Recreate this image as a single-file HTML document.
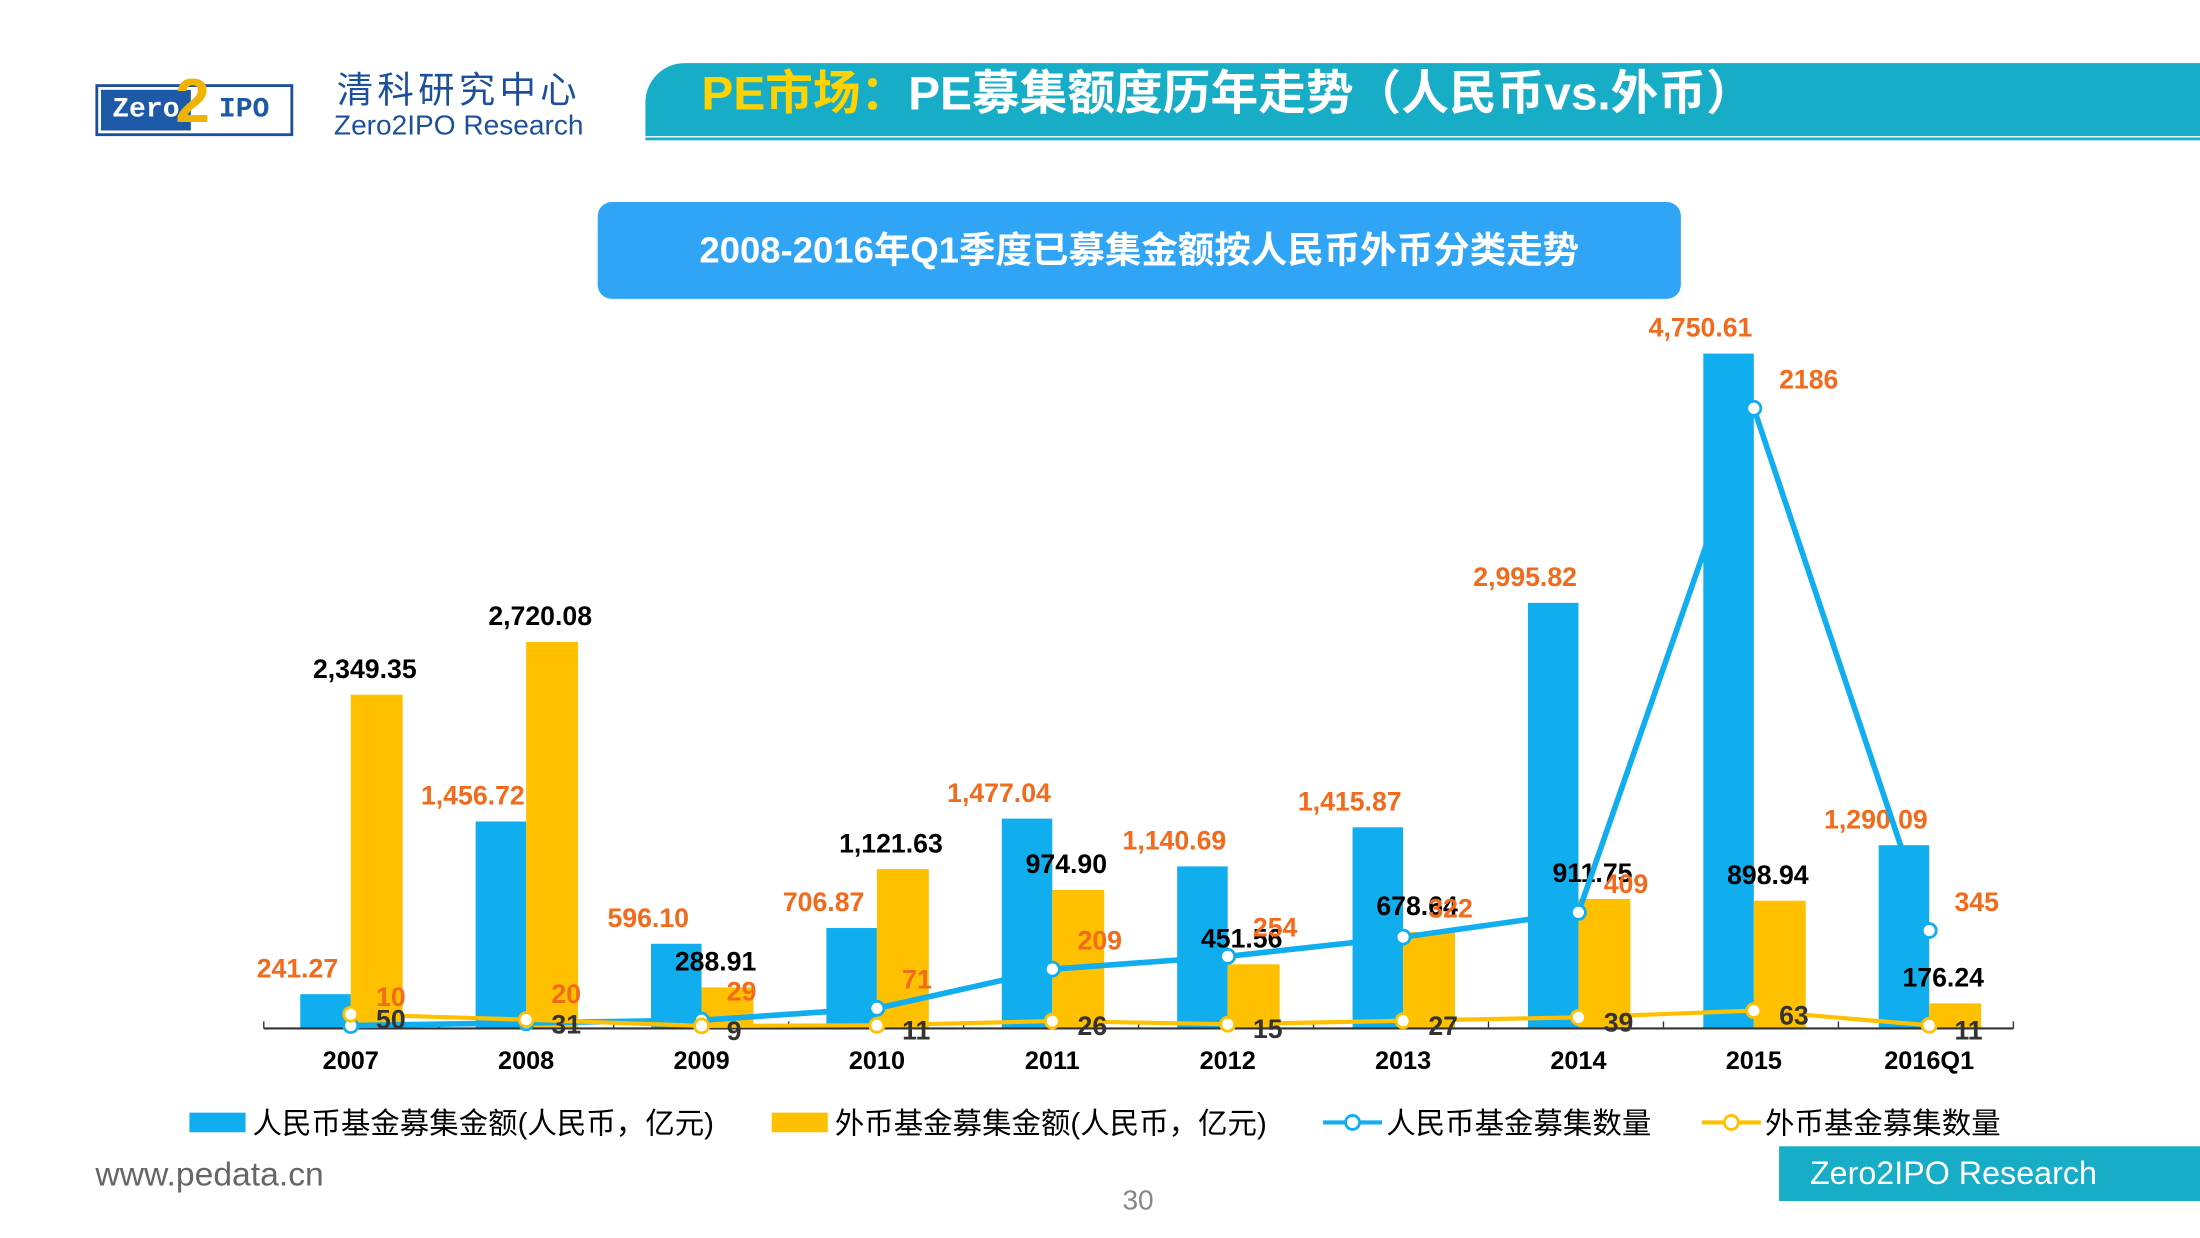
<!DOCTYPE html>
<html><head><meta charset="utf-8"><style>
body{margin:0;width:2200px;height:1238px;overflow:hidden;background:#fff}
#s{position:absolute;left:0;top:0;width:1568px;height:882px;transform:scale(1.40306);transform-origin:0 0;font-family:"Liberation Sans","Noto Sans CJK SC",sans-serif}
.a{position:absolute}
</style></head><body><div id="s">
<div class="a" style="left:68px;top:60px;width:137px;height:33px;border:2px solid #1c4f9c;background:#fff">
 <div class="a" style="left:2px;top:2px;width:64px;height:29px;background:#1c5aa8;color:#fff;font:bold 20px 'Liberation Mono',monospace;line-height:29px;text-align:center">Zero</div>
 <div class="a" style="left:55px;top:-14px;color:#f0b400;font:bold 44px 'Liberation Sans',sans-serif">2</div>
 <div class="a" style="left:86px;top:2px;color:#1c5aa8;font:bold 20px 'Liberation Mono',monospace;line-height:29px">IPO</div>
</div>
<div class="a" style="left:240px;top:44px;font-size:26px;color:#1c4f9c;letter-spacing:3px">清科研究中心</div>
<div class="a" style="left:238px;top:79px;font-size:20px;color:#1c4f9c">Zero2IPO Research</div>
<div class="a" style="left:460px;top:45px;width:1108px;height:52px;background:#17adc6;border-radius:28px 0 0 0"></div>
<div class="a" style="left:460px;top:98px;width:1108px;height:2px;background:#17adc6"></div>
<div class="a" style="left:500px;top:47px;font-size:34px;font-weight:bold;color:#fff;line-height:40px"><span style="color:#ffd200">PE市场：</span>PE募集额度历年走势（人民币vs.外币）</div>
<div class="a" style="left:426px;top:144px;width:772px;height:69px;background:#31a5f5;border-radius:10px;color:#fff;font-size:26px;font-weight:bold;text-align:center;line-height:69px">2008-2016年Q1季度已募集金额按人民币外币分类走势</div>
<svg class="a" style="left:0;top:0" width="1568" height="882" id="ch"></svg>
<div class="a" style="left:68px;top:824px;font-size:24px;color:#666">www.pedata.cn</div>
<div class="a" style="left:800px;top:845px;font-size:20px;color:#888">30</div>
<div class="a" style="left:1268px;top:817px;width:300px;height:39px;background:#17adc6;color:#fff;font-size:23px;line-height:39px;padding-left:22px;box-sizing:border-box">Zero2IPO Research</div>
</div>
<script>
const categories=["2007","2008","2009","2010","2011","2012","2013","2014","2015","2016Q1"];
const rmbAmount=[241.27,1456.72,596.10,706.87,1477.04,1140.69,1415.87,2995.82,4750.61,1290.09];
const fxAmount=[2349.35,2720.08,288.91,1121.63,974.90,451.56,678.64,911.75,898.94,176.24];
const rmbCount=[10,20,29,71,209,254,322,409,2186,345];
const fxCount=[50,31,9,11,26,15,27,39,63,11];
const NS="http://www.w3.org/2000/svg",svg=document.getElementById('ch');
const base=733,x=i=>250+125*i,yA=v=>base-v*481/4750.61,yC=v=>base-v*442/2186;
function mk(t,a,p){const e=document.createElementNS(NS,t);for(const k in a)e.setAttribute(k,a[k]);(p||svg).appendChild(e);return e}
const fmt=v=>v.toLocaleString('en-US',{minimumFractionDigits:2,maximumFractionDigits:2});
categories.forEach((c,i)=>{
 let b=mk('rect',{x:x(i)-36,y:yA(rmbAmount[i]),width:36,height:base-yA(rmbAmount[i]),fill:'#10aeef'});
 
 let f=mk('rect',{x:x(i),y:yA(fxAmount[i]),width:37,height:base-yA(fxAmount[i]),fill:'#ffc000'});
 
 let t=mk('text',{x:x(i)-38,y:yA(rmbAmount[i])-12,'text-anchor':'middle','font-size':19,'font-weight':'bold',fill:'#f26a1b'});t.textContent=fmt(rmbAmount[i]);
 
 let u=mk('text',{x:x(i)+10,y:yA(fxAmount[i])-12,'text-anchor':'middle','font-size':19,'font-weight':'bold',fill:'#000'});u.textContent=fmt(fxAmount[i]);
 
 let k=mk('text',{x:x(i),y:762,'text-anchor':'middle','font-size':18,'font-weight':'bold',fill:'#000'});k.textContent=c;
 
});
mk('line',{x1:188,x2:1435,y1:base,y2:base,stroke:'#333','stroke-width':1.5});
for(let i=0;i<=10;i++)mk('line',{x1:188+124.7*i,x2:188+124.7*i,y1:base,y2:base-5,stroke:'#333'});
function line(arr,col,nm,lc,dx,dy){
 let l=mk('polyline',{points:arr.map((v,i)=>x(i)+','+yC(v)).join(' '),fill:'none',stroke:col,'stroke-width':nm=='rmb'?4:3});
 
 arr.forEach((v,i)=>{let p=mk('circle',{cx:x(i),cy:yC(v),r:5,fill:'#fff',stroke:col,'stroke-width':2});
 
 let t=mk('text',{x:x(i)+dx,y:yC(v)+dy,'font-size':19,'font-weight':'bold',fill:lc});t.textContent=v;
 });
}
line(rmbCount,'#10aeef','rmb','#f26a1b',18,-14);
line(fxCount,'#ffc000','fx','#333',18,10);
const leg=[['rect','#10aeef','人民币基金募集金额(人民币，亿元)',135],['rect','#ffc000','外币基金募集金额(人民币，亿元)',550],['line','#10aeef','人民币基金募集数量',943],['line','#ffc000','外币基金募集数量',1213]];
leg.forEach(([t,c,s,lx])=>{let g=mk('g',{});
 if(t=='rect')mk('rect',{x:lx,y:793,width:40,height:14,fill:c},g);else{mk('line',{x1:lx,x2:lx+42,y1:800,y2:800,stroke:c,'stroke-width':3},g);mk('circle',{cx:lx+21,cy:800,r:5,fill:'#fff',stroke:c,'stroke-width':2},g)}
 let tx=mk('text',{x:lx+45,y:808,'font-size':21,fill:'#000'},g);tx.textContent=s;});
</script></body></html>
